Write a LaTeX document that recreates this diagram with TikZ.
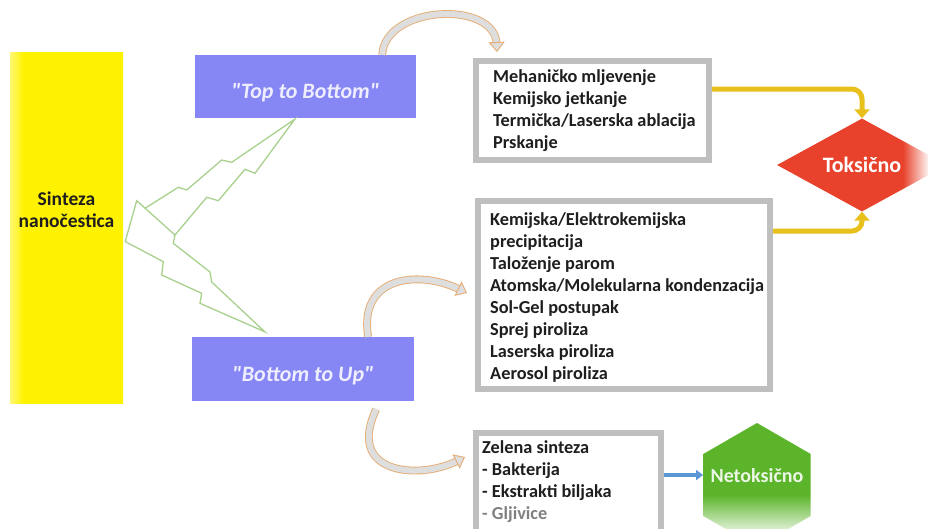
\documentclass[tikz,border=0pt]{standalone}
\usepackage{fontspec}
\setmainfont{Carlito}
\newfontfamily\plaincarlito{Carlito}
\usetikzlibrary{shapes.geometric,arrows.meta,calc,decorations.markings}
\definecolor{barY}{RGB}{255,242,0}
\definecolor{purp}{RGB}{134,134,244}
\definecolor{purptxt}{RGB}{238,238,255}
\definecolor{frameC}{RGB}{191,191,191}
\definecolor{txtC}{RGB}{30,30,30}
\definecolor{goldC}{RGB}{232,192,28}
\definecolor{tred}{RGB}{232,66,44}
\definecolor{tgreen}{RGB}{92,180,42}
\definecolor{boltC}{RGB}{169,209,142}
\definecolor{curvO}{RGB}{230,172,115}
\definecolor{curvF}{RGB}{222,222,222}
\definecolor{arrB}{RGB}{91,150,213}
\pgfdeclarehorizontalshading{barshade}{100bp}{color(0bp)=(white); color(25bp)=(white!45!barY); color(31bp)=(barY); color(100bp)=(barY)}
\pgfdeclarehorizontalshading{redshade}{100bp}{color(0bp)=(tred); color(62bp)=(tred); color(70bp)=(white); color(100bp)=(white)}
\pgfdeclareverticalshading{greenshade}{100bp}{color(0bp)=(white); color(31bp)=(white!85!tgreen); color(46bp)=(tgreen); color(100bp)=(tgreen)}
\tikzset{
  barbox/.style={rectangle, draw=none, shading=barshade, minimum width=113pt, minimum height=351pt, inner sep=0pt},
  bartxt/.style={align=center, inner sep=0pt, text=txtC, font=\bfseries\fontsize{19.5pt}{22pt}\selectfont},
  purpbox/.style={rectangle, fill=purp, draw=none, inner sep=0pt, text=purptxt, text depth=0pt, font=\plaincarlito\bfseries\itshape\fontsize{22pt}{24pt}\selectfont},
  framebox/.style={rectangle, draw=frameC, line width=6pt, fill=white, inner sep=0pt},
  boxtxt/.style={anchor=west, align=left, inner sep=0pt, text=txtC, font=\bfseries\fontsize{18.3pt}{22pt}\selectfont},
  boltline/.style={draw=boltC, line width=1.3pt, line join=miter},
  curvbody/.style={draw=curvO, line width=0.9pt, double=curvF, double distance=6pt, shorten >=8pt},
  curvtip/.style={decorate, decoration={markings, mark=at position 0.9999 with {\arrow[curvO, line width=0.9pt]{Triangle[width=16pt,length=10pt,fill=curvF]}}}},
  goldarrow/.style={draw=goldC, line width=5pt, rounded corners=10pt, -{Triangle[width=15pt,length=9pt]}},
  bluearrow/.style={draw=arrB, line width=3.5pt, -{Triangle[width=10pt,length=7pt]}},
  toxd/.style={diamond, aspect=2, minimum width=170pt, minimum height=93pt, inner sep=0pt, shading=redshade, text=white, font=\bfseries\fontsize{22pt}{24pt}\selectfont},
  hexn/.style={regular polygon, regular polygon sides=6, shape border rotate=30, minimum size=124pt, inner sep=0pt, shading=greenshade, text=white!88!tgreen, font=\bfseries\fontsize{20pt}{24pt}\selectfont}
}
\begin{document}
\begin{tikzpicture}[x=1pt,y=-1pt]
\useasboundingbox (0,0) rectangle (928,528);
\clip (0,0) rectangle (928,528);
\fill[white] (0,0) rectangle (928,528);

% left bar
\node[barbox] (bar) at (66.5,227.5) {};
\node[bartxt] (bart) at (66.5,210) {Sinteza\\nanočestica};

% purple boxes
\node[purpbox, minimum width=221pt, minimum height=63pt, text height=24.4pt] (tb) at (305.5,86.5) {"Top to Bottom"};
\node[purpbox, minimum width=222pt, minimum height=64pt, text height=25.4pt] (bu) at (303,369) {"Bottom to Up"};

% framed boxes
\node[framebox, minimum width=233pt, minimum height=99pt] (b1) at (592.5,110.5) {};
\node[framebox, minimum width=292pt, minimum height=188pt] (b2) at (624,295) {};
\node[framebox, minimum width=185pt, minimum height=100pt] (b3) at (568.5,483) {};

\node[boxtxt] (t1) at (493,111) {Mehaničko mljevenje\\Kemijsko jetkanje\\Termička/Laserska ablacija\\Prskanje};
\node[boxtxt] (t2) at (490,298) {Kemijska/Elektrokemijska\\precipitacija\\Taloženje parom\\Atomska/Molekularna kondenzacija\\Sol-Gel postupak\\Sprej piroliza\\Laserska piroliza\\Aerosol piroliza};
\node[boxtxt] (t3) at (482,482) {Zelena sinteza\\- Bakterija\\- Ekstrakti biljaka\\\textcolor{gray}{- Gljivice}};

% result shapes
\node[toxd] (tox) at (862,165) {Toksično};
\node[hexn] (hex) at (757,485) {\raisebox{19pt}{\makebox[0pt]{Netoksično}}};

% lightning bolts
\draw[boltline] (145,208.3) -- (178.3,187.3) -- (186.7,190) -- (221.7,160) -- (231.7,162.3) -- ($(tb.south west)+(100,1)$) -- (255,173.3) -- (245,169.3) -- (218.3,200.7) -- (206.7,197.3) -- (175,235);
\draw[boltline] ($(bar.east)+(2,14)$) -- (136.7,200.7) -- (175,235) -- (173.3,243.3) -- (210,272) -- (211.7,282) -- ($(bu.north west)+(73,-5)$) -- (200,303.3) -- (201.7,293.3) -- (161.7,275) -- (163.3,261.7) -- cycle;

% curved arrows
\draw[curvbody] ($(tb.north east)+(-34,0)$) .. controls (385,5) and (495,0) .. ($(b1.north west)+(24,-6)$);
\path[curvtip] ($(tb.north east)+(-34,0)$) .. controls (385,5) and (495,0) .. ($(b1.north west)+(24,-6)$);
\draw[curvbody] ($(bu.north east)+(-46,0)$) .. controls (358,275) and (420,270) .. ($(b2.north west)+(-8,95)$);
\path[curvtip] ($(bu.north east)+(-46,0)$) .. controls (358,275) and (420,270) .. ($(b2.north west)+(-8,95)$);
\draw[curvbody] ($(bu.south east)+(-38,8)$) .. controls (345,475) and (420,480) .. ($(b3.north west)+(-8,27)$);
\path[curvtip] ($(bu.south east)+(-38,8)$) .. controls (345,475) and (420,480) .. ($(b3.north west)+(-8,27)$);

% connectors to results
\draw[goldarrow] ($(b1.north east)+(0,31)$) -| (tox.north);
\draw[goldarrow] ($(b2.north east)+(0,33)$) -| (tox.south);
\coordinate (ba) at ($(b3.east)+(0,-8)$);
\draw[bluearrow] (ba) -- (ba -| hex.west);
\end{tikzpicture}
\end{document}
